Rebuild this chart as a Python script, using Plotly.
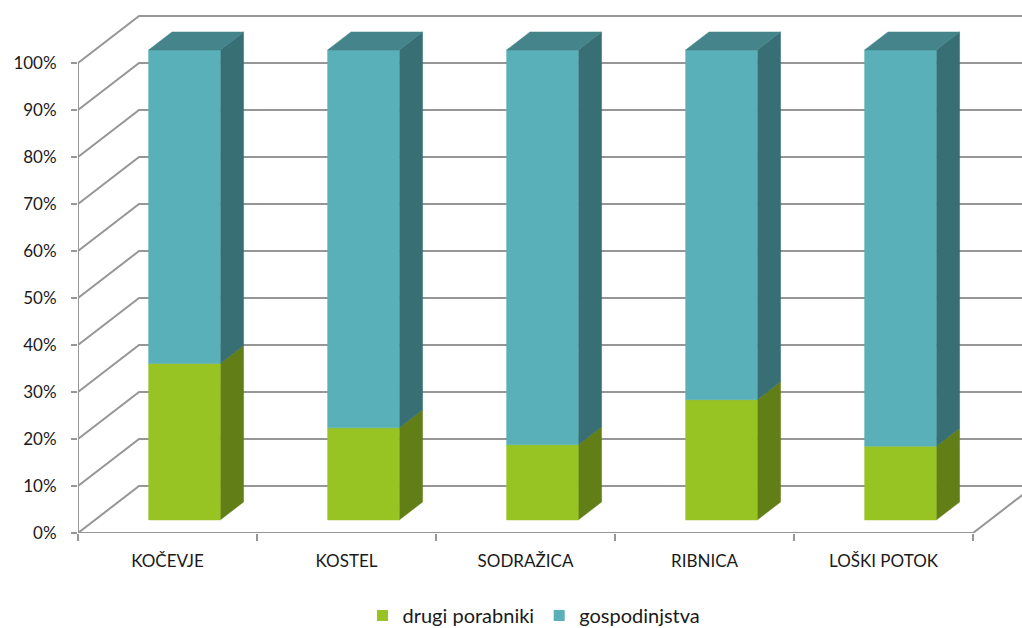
import plotly.graph_objects as go

# ---------------- data ----------------
categories = ["KOČEVJE", "KOSTEL", "SODRAŽICA", "RIBNICA", "LOŠKI POTOK"]
drugi_porabniki = [33.3, 19.6, 16.0, 25.6, 15.7]
gospodinjstva = [66.7, 80.4, 84.0, 74.4, 84.3]
series_names = ["drugi porabniki", "gospodinjstva"]
y_tick_values = [0, 10, 20, 30, 40, 50, 60, 70, 80, 90, 100]
y_tick_labels = [f"{v}%" for v in y_tick_values]

# ---------------- style / projection ----------------
DX, DY = 0.341, 10.0          # oblique depth vector (x units, % units) of the back wall
D0, D1 = 0.277, 0.66          # bar depth span (fraction of full depth)
BAR_A, BAR_B = 0.3, 0.7       # bar span inside each category cell
GRID = "#969696"
FONT = dict(family="Lato, Calibri, Open Sans, sans-serif", size=17, color="#1a1a1a")
LEGEND_FONT = dict(family="Lato, Calibri, Open Sans, sans-serif", size=20, color="#1a1a1a")
COLORS = {
    "drugi porabniki": dict(front="#98C423", side="#627F17", top="#7DA21D"),
    "gospodinjstva": dict(front="#5AB0B8", side="#386F74", top="#44848A"),
}

n = len(categories)
fig = go.Figure()


def line(xs, ys, color=GRID, width=2):
    fig.add_trace(go.Scatter(x=xs, y=ys, mode="lines", line=dict(color=color, width=width),
                             hoverinfo="skip", showlegend=False))


def poly(pts, color):
    xs = [p[0] for p in pts] + [pts[0][0]]
    ys = [p[1] for p in pts] + [pts[0][1]]
    fig.add_trace(go.Scatter(x=xs, y=ys, mode="lines", fill="toself", fillcolor=color,
                             line=dict(color=color, width=0.5), hoverinfo="skip",
                             showlegend=False))


def proj(x, y, d):
    return (x + d * DX, y + d * DY)


# walls / gridlines
for v in y_tick_values:
    line([0, DX, n + DX], [v, v + DY, v + DY])
line([0, n], [0, 0])            # front floor edge
line([n, n + DX], [0, DY])      # right floor edge
line([0, 0], [0, 100])          # front value axis

# bars
for i in range(n):
    stack = [(series_names[0], 0, drugi_porabniki[i]),
             (series_names[1], drugi_porabniki[i], drugi_porabniki[i] + gospodinjstva[i])]
    a, b = i + BAR_A, i + BAR_B
    for k, (name, y0, y1) in enumerate(stack):
        c = COLORS[name]
        poly([proj(b, y0, D0), proj(b, y0, D1), proj(b, y1, D1), proj(b, y1, D0)], c["side"])
        poly([proj(a, y0, D0), proj(b, y0, D0), proj(b, y1, D0), proj(a, y1, D0)], c["front"])
        if k == len(stack) - 1:
            poly([proj(a, y1, D0), proj(b, y1, D0), proj(b, y1, D1), proj(a, y1, D1)], c["top"])

# legend entries
for name in series_names:
    fig.add_trace(go.Scatter(x=[None], y=[None], mode="markers", name=name,
                             marker=dict(symbol="square", size=11, color=COLORS[name]["front"])))

fig.update_layout(
    width=1022, height=628,
    margin=dict(l=78, r=0, t=10, b=95),
    paper_bgcolor="white", plot_bgcolor="white",
    font=FONT,
    xaxis=dict(range=[0, (1022 - 78) / 179.0], showgrid=False, zeroline=False, showline=False,
               tickvals=[i + 0.5 for i in range(n)], ticktext=categories, ticks="",
               ticklabelstandoff=16,
               minor=dict(tickvals=list(range(n + 1)), ticks="outside", ticklen=7,
                          tickwidth=2, tickcolor=GRID),
               fixedrange=True),
    yaxis=dict(range=[0, 523 / 4.7], showgrid=False, zeroline=False, showline=False,
               tickvals=y_tick_values, ticktext=y_tick_labels, ticks="outside", ticklen=6,
               tickwidth=2, tickcolor=GRID, ticklabelstandoff=11, fixedrange=True),
    showlegend=True,
    legend=dict(orientation="h", xref="container", yref="container", x=0.5225, y=0.02,
                xanchor="center", yanchor="middle", font=LEGEND_FONT, itemwidth=30,
                traceorder="normal"),
)

fig.write_html("out.html")
